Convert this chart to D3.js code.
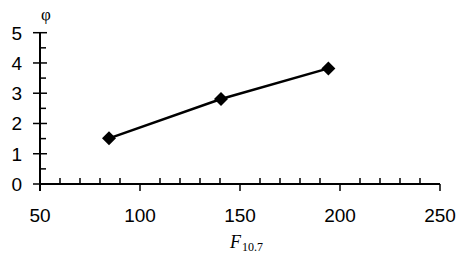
<!DOCTYPE html>
<html>
<head>
<meta charset="utf-8">
<script src="https://cdn.jsdelivr.net/npm/d3@7"></script>
<style>
  body { margin: 0; background: #fff; }
  text { font-family: "Liberation Sans", Arial, sans-serif; }
</style>
</head>
<body>
<svg id="chart"></svg>
<script>
// data
var f107 = [84.5, 140.5, 194.2];
var phi = [1.51, 2.81, 3.82];
var xTicks = [50, 100, 150, 200, 250];
var yTicks = [0, 1, 2, 3, 4, 5];

var width = 469, height = 254;

var svg = d3.select("#chart")
	.attr("width", width)
	.attr("height", height);

var x = d3.scaleLinear().domain([50, 250]).range([40, 440]);
var y = d3.scaleLinear().domain([0, 5]).range([184, 32.7]);

var points = f107.map((d, i) => ({ x: d, y: phi[i] }));

// minor ticks (inside)
var xMinor = d3.range(50, 251, 10).filter(d => d % 50 !== 0);
var yMinor = d3.range(0.5, 5, 1);

svg.selectAll(".xminor")
	.data(xMinor)
	.enter()
	.append("line")
	.attr("x1", d => x(d)).attr("x2", d => x(d))
	.attr("y1", y(0)).attr("y2", y(0) - 6)
	.attr("stroke", "#000").attr("stroke-width", 1.5);

svg.selectAll(".yminor")
	.data(yMinor)
	.enter()
	.append("line")
	.attr("x1", x(50)).attr("x2", x(50) + 6)
	.attr("y1", d => y(d)).attr("y2", d => y(d))
	.attr("stroke", "#000").attr("stroke-width", 1.5);

// major ticks
svg.selectAll(".xmajor")
	.data(xTicks)
	.enter()
	.append("line")
	.attr("x1", d => x(d)).attr("x2", d => x(d))
	.attr("y1", y(0)).attr("y2", y(0) + 7)
	.attr("stroke", "#000").attr("stroke-width", 1.5);

svg.selectAll(".ymajor")
	.data(yTicks)
	.enter()
	.append("line")
	.attr("x1", x(50) - 7).attr("x2", x(50) + 7)
	.attr("y1", d => y(d)).attr("y2", d => y(d))
	.attr("stroke", "#000").attr("stroke-width", 1.5);

// axis lines
svg.append("line")
	.attr("x1", x(50)).attr("x2", x(250))
	.attr("y1", y(0)).attr("y2", y(0))
	.attr("stroke", "#000").attr("stroke-width", 2);
svg.append("line")
	.attr("x1", x(50)).attr("x2", x(50))
	.attr("y1", y(0) + 7).attr("y2", y(5))
	.attr("stroke", "#000").attr("stroke-width", 2);

// tick labels
svg.selectAll(".xlabel")
	.data(xTicks)
	.enter()
	.append("text")
	.attr("x", d => x(d))
	.attr("y", 222)
	.attr("font-size", 19)
	.attr("text-anchor", "middle")
	.text(d => d);

svg.selectAll(".ylabel")
	.data(yTicks)
	.enter()
	.append("text")
	.attr("x", 22)
	.attr("y", d => y(d) + 7)
	.attr("font-size", 19)
	.attr("text-anchor", "end")
	.text(d => d);

// axis titles
svg.append("text")
	.attr("x", 46)
	.attr("y", 20)
	.attr("font-size", 17)
	.attr("text-anchor", "middle")
	.style("font-family", "'Liberation Serif', serif")
	.text("φ");

var xt = svg.append("text")
	.attr("x", 230)
	.attr("y", 248)
	.attr("font-size", 18)
	.style("font-family", "'Liberation Serif', serif");
xt.append("tspan").attr("font-style", "italic").text("F");
xt.append("tspan").attr("font-size", 12).attr("dy", 3).attr("dx", 1).text("10.7");

// series
var line = d3.line().x(d => x(d.x)).y(d => y(d.y));
svg.append("path")
	.datum(points)
	.attr("d", line)
	.attr("fill", "none")
	.attr("stroke", "#000")
	.attr("stroke-width", 2.5);

svg.selectAll(".pt")
	.data(points)
	.enter()
	.append("path")
	.attr("transform", d => `translate(${x(d.x)},${y(d.y)})`)
	.attr("d", "M0,-7L7,0L0,7L-7,0Z")
	.attr("fill", "#000");
</script>
</body>
</html>
